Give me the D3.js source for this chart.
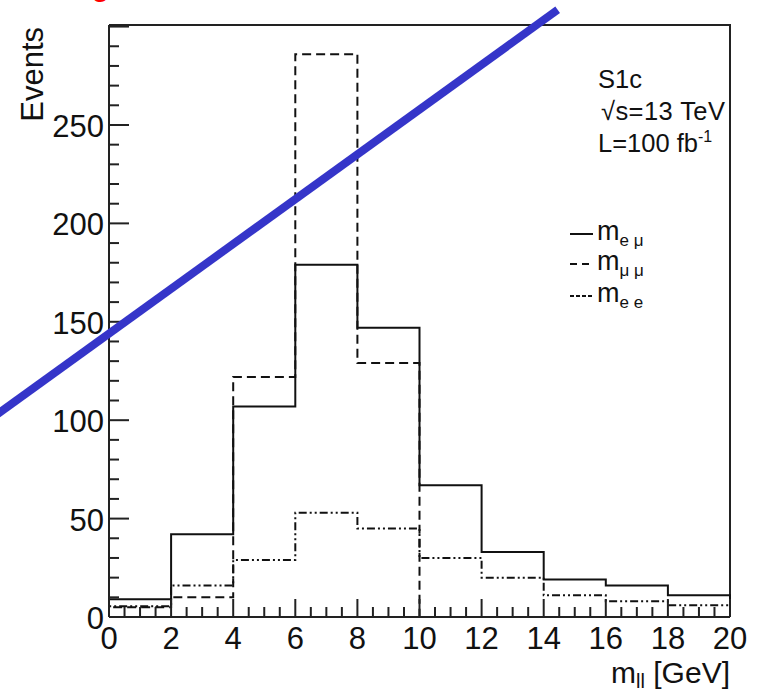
<!DOCTYPE html>
<html>
<head>
<meta charset="utf-8">
<script src="https://cdn.jsdelivr.net/npm/d3@7"></script>
<style>
  body { margin: 0; background: #fff; }
  svg { display: block; font-family: "Liberation Sans", Arial, sans-serif; }
  .hist { fill: none; stroke: #111; stroke-width: 2; }
  .axis-line { stroke: #222; stroke-width: 2; fill: none; }
  .tick-mark { stroke: #222; stroke-width: 2; }
</style>
</head>
<body>
<svg id="chart" width="759" height="691"></svg>
<script>
// bin edges and contents (2 GeV bins)
const edges = [0, 2, 4, 6, 8, 10, 12, 14, 16, 18, 20];
const emu  = [9, 42, 107, 179, 147, 67, 33, 19, 16, 11];
const mumu = [5, 10, 122, 286, 129, 0, 0, 0, 0, 0];
const ee   = [5.5, 16, 29, 53, 45, 30, 20, 11, 8, 6];

const xMajor = d3.range(0, 21, 2);
const xMinor = d3.range(0, 20.01, 0.5);
const yMajor = [0, 50, 100, 150, 200, 250];
const yMinor = d3.range(0, 301, 10);

const series = [
  { sub: "e μ", values: emu,  dash: null,          legend: null },
  { sub: "μ μ", values: mumu, dash: "9,5",         legend: "7,5" },
  { sub: "e e", values: ee,   dash: "8,3,2,3,2,3", legend: "4,2" }
];

const svg = d3.select("#chart");
const pLeft = 109, pTop = 25, pRight = 730, pBottom = 617;

const x = d3.scaleLinear().domain([0, 20]).range([pLeft, pRight]);
const y = d3.scaleLinear().domain([0, 300.8]).range([pBottom, pTop]);

// frame (top and right)
svg.append("path").attr("class", "axis-line")
  .attr("d", `M${pLeft},${pTop}H${pRight}V${pBottom}`);

// histograms
function stepPoints(vals) {
  const pts = [[edges[0], 0]];
  vals.forEach((v, i) => { pts.push([edges[i], v]); pts.push([edges[i + 1], v]); });
  pts.push([edges[edges.length - 1], 0]);
  return pts;
}
const line = d3.line().x(d => x(d[0])).y(d => y(d[1]));

series.forEach(s => {
  svg.append("path").attr("class", "hist")
    .attr("d", line(stepPoints(s.values)))
    .attr("stroke-dasharray", s.dash);
});

// axes lines
svg.append("line").attr("class", "axis-line")
  .attr("x1", pLeft).attr("x2", pLeft).attr("y1", pTop).attr("y2", pBottom);
svg.append("line").attr("class", "axis-line")
  .attr("x1", pLeft).attr("x2", pRight).attr("y1", pBottom).attr("y2", pBottom);

// x ticks
svg.append("g").selectAll("line").data(xMinor).join("line")
  .attr("class", "tick-mark")
  .attr("x1", d => x(d)).attr("x2", d => x(d))
  .attr("y1", pBottom)
  .attr("y2", d => pBottom - (d % 2 === 0 ? 18 : 10));

svg.append("g").selectAll("text").data(xMajor).join("text")
  .attr("x", d => x(d)).attr("y", 649)
  .attr("text-anchor", "middle")
  .attr("font-size", 31)
  .attr("fill", "#111")
  .text(d => d);

// y ticks
svg.append("g").selectAll("line").data(yMinor).join("line")
  .attr("class", "tick-mark")
  .attr("y1", d => y(d)).attr("y2", d => y(d))
  .attr("x1", pLeft)
  .attr("x2", d => pLeft + (d % 50 === 0 ? 20 : 10));

svg.append("g").selectAll("text").data(yMajor).join("text")
  .attr("x", 104).attr("y", d => y(d) + 12)
  .attr("text-anchor", "end")
  .attr("font-size", 31)
  .attr("fill", "#111")
  .text(d => d);

// axis titles
svg.append("text")
  .attr("transform", "translate(43,27) rotate(-90)")
  .attr("text-anchor", "end")
  .attr("font-size", 31)
  .attr("fill", "#111")
  .text("Events");

const xt = svg.append("text")
  .attr("x", 730).attr("y", 683)
  .attr("text-anchor", "end")
  .attr("font-size", 30)
  .attr("fill", "#111");
xt.append("tspan").text("m");
xt.append("tspan").attr("font-size", 20).attr("dy", 5).text("ll");
xt.append("tspan").attr("dy", -5).text(" [GeV]");

// info block
const info = svg.append("g").attr("font-size", 25.5).attr("fill", "#111");
info.append("text").attr("x", 598).attr("y", 88).text("S1c");
info.append("text").attr("x", 601).attr("y", 120).attr("textLength", 124).text("√s=13 TeV");
const lum = info.append("text").attr("x", 598).attr("y", 152);
lum.append("tspan").text("L=100 fb");
lum.append("tspan").attr("font-size", 16).attr("dy", -10).text("-1");

// legend
const legY = [240, 270, 302];
series.forEach((s, i) => {
  const g = svg.append("g").attr("transform", `translate(0,${legY[i]})`);
  g.append("line")
    .attr("x1", 570).attr("x2", 593).attr("y1", -6).attr("y2", -6)
    .attr("stroke", "#111").attr("stroke-width", 2)
    .attr("stroke-dasharray", s.legend);
  const t = g.append("text").attr("x", 597).attr("y", 0)
    .attr("font-size", 27).attr("fill", "#111");
  t.append("tspan").text("m");
  t.append("tspan").attr("font-size", 17).attr("dy", 6).text(s.sub);
});

// red caption fragments above the crop
svg.append("text").attr("x", 92).attr("y", -4)
  .attr("font-size", 28).attr("font-weight", "bold").attr("fill", "#ff0000").text("g");
svg.append("text").attr("x", 281).attr("y", -4)
  .attr("font-size", 30).attr("font-weight", "bold").attr("fill", "#ff0000").text("_");

// blue strike-through annotation
svg.append("line")
  .attr("x1", x(-3.6)).attr("y1", y(103))
  .attr("x2", x(14.45)).attr("y2", y(308.5))
  .attr("stroke", "#3535c9").attr("stroke-width", 8);
</script>
</body>
</html>
